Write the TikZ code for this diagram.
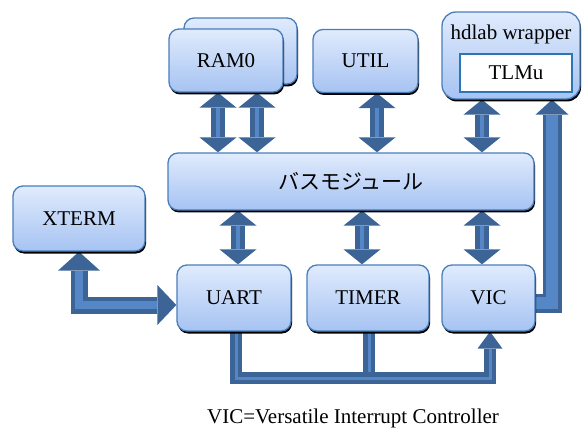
\documentclass[tikz,border=0pt]{standalone}
\usepackage{fontspec}
\setmainfont{Liberation Serif}
\newfontfamily\jpfont{Noto Sans CJK JP}
\usetikzlibrary{arrows.meta,shadows,calc}
\definecolor{boxline}{HTML}{4A7EBB}
\definecolor{boxtop}{HTML}{E0EBFD}
\definecolor{boxbot}{HTML}{A6C3F2}
\definecolor{arrdark}{HTML}{3C6496}
\definecolor{arrlight}{HTML}{5586C6}
\definecolor{tlmuline}{HTML}{2E75B6}
\pgfdeclarelayer{bg}
\pgfsetlayers{bg,main}
\begin{document}
\begin{tikzpicture}[x=1pt,y=-1pt,
  txt/.style={font=\fontsize{21}{24}\selectfont, inner sep=0pt},
  blk/.style={draw=boxline, line width=1.3pt, rounded corners=10pt,
    top color=boxtop, bottom color=boxbot,
    drop shadow={shadow xshift=1pt,shadow yshift=-2.5pt,fill=black,opacity=1},
    font=\fontsize{21}{24}\selectfont, inner sep=0pt},
  dbl/.style={draw=arrdark, line width=14pt,
    {Triangle[width=37pt,length=15pt,line width=0pt]}-{Triangle[width=37pt,length=15pt,line width=0pt]},
    postaction={draw=arrlight, line width=4pt, arrows=-, shorten <=15pt, shorten >=15pt}},
  xarr/.style={draw=arrdark, line width=17pt,
    {Triangle[width=42pt,length=19pt,line width=0pt]}-{Triangle[width=40pt,length=19pt,line width=0pt]},
    postaction={draw=arrlight, line width=8pt, arrows=-, shorten <=19pt, shorten >=19pt}},
  busl/.style={draw=arrdark, line width=12pt,
    postaction={draw=arrlight, line width=3pt, arrows=-}},
  busarr/.style={draw=arrdark, line width=12pt,
    -{Triangle[width=25pt,length=17pt,line width=0pt]},
    postaction={draw=arrlight, line width=3pt, arrows=-, shorten >=17pt}},
  bigarr/.style={draw=arrdark, line width=19pt,
    -{Triangle[width=33pt,length=15pt,line width=0pt]},
    postaction={draw=arrlight, line width=12pt, arrows=-, shorten >=15pt}}
]
\useasboundingbox (0,0) rectangle (583,430);

% boxes
\node[blk, minimum width=113pt, minimum height=66pt] (ramb) at (240.5,51) {};
\node[blk, minimum width=114pt, minimum height=63pt] (ramf) at (226,60.5) {RAM0};
\node[blk, minimum width=105pt, minimum height=63pt] (util) at (365.5,61) {UTIL};
\node[blk, rounded corners=14pt, minimum width=138pt, minimum height=87pt] (hdl) at (511,55.5) {};
\node[txt] (hdlt) at (511,34) {hdlab wrapper};
\node[draw=tlmuline, line width=1.8pt, fill=white, minimum width=112pt, minimum height=38pt, txt] (tlmu) at (516,73) {TLMu};
\node[blk, minimum width=366pt, minimum height=57pt] (bus) at (351,181.5) {\jpfont\fontsize{21}{24}\selectfont バスモジュール};
\node[blk, minimum width=132pt, minimum height=65pt] (xterm) at (79,218.5) {XTERM};
\node[blk, minimum width=114pt, minimum height=66pt] (uart) at (234,298) {UART};
\node[blk, minimum width=122pt, minimum height=66pt] (timer) at (368,298) {TIMER};
\node[blk, minimum width=93pt, minimum height=66pt] (vic) at (488.5,298) {VIC};
\node[txt, anchor=base] (cap) at (353,423) {VIC=Versatile Interrupt Controller};

% helper coordinates
\coordinate (xa) at (218,0);
\coordinate (xb) at (257,0);
\coordinate (xu) at (377,0);
\coordinate (xt) at (482,0);
\coordinate (xl1) at (238,0);
\coordinate (xl2) at (362,0);
\coordinate (xl3) at (482,0);
\coordinate (xx) at (79,0);
\coordinate (yx) at (0,305);
\coordinate (bu) at (236,0);
\coordinate (bt) at (369,0);
\coordinate (bv) at (490,0);
\coordinate (hl) at (0,378);
\coordinate (rx) at (552,0);
\coordinate (ry) at (0,303);

\begin{pgfonlayer}{bg}
\draw[dbl] (ramf.south -| xa) -- (bus.north -| xa);
\draw[dbl] (ramf.south -| xb) -- (bus.north -| xb);
\draw[dbl] (util.south -| xu) -- (bus.north -| xu);
\draw[dbl] (hdl.south -| xt) -- (bus.north -| xt);
\draw[dbl] (bus.south -| xl1) -- (uart.north -| xl1);
\draw[dbl] (bus.south -| xl2) -- (timer.north -| xl2);
\draw[dbl] (bus.south -| xl3) -- (vic.north -| xl3);
\draw[xarr] (xterm.south -| xx) -- (xx |- yx) -- (uart.west |- yx);
\draw[busl] (timer.south -| bt) -- (bt |- hl);
\draw[busarr] (uart.south -| bu) -- (bu |- hl) -| (vic.south -| bv);
\draw[bigarr] (vic.east |- ry) -- (rx |- ry) -- (hdl.south -| rx);
\end{pgfonlayer}
\end{tikzpicture}
\end{document}
